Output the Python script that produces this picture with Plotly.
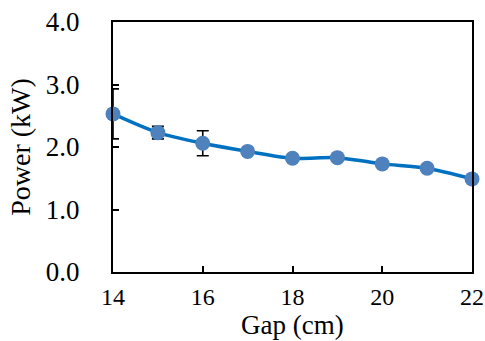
import plotly.graph_objects as go

gap_cm = [14, 15, 16, 17, 18, 19, 20, 21, 22]
power_kw = [2.53, 2.23, 2.06, 1.93, 1.82, 1.83, 1.73, 1.66, 1.49]
err_x = [14, 15, 16]
err_y = [2.53, 2.23, 2.06]
err_val = [0.40, 0.10, 0.20]
x_title = "Gap (cm)"
y_title = "Power (kW)"

FONT = "Liberation Serif"

fig = go.Figure()
fig.add_trace(go.Scatter(
    x=err_x, y=err_y, mode="markers",
    marker=dict(size=1, opacity=0),
    error_y=dict(type="data", array=err_val, visible=True,
                 color="black", thickness=1.6, width=6),
    showlegend=False, hoverinfo="skip", cliponaxis=False,
))
fig.add_trace(go.Scatter(
    x=gap_cm, y=power_kw, mode="lines+markers",
    line=dict(color="#0070C0", width=3.5, shape="spline", smoothing=0.8),
    marker=dict(color="#4F81BD", size=15),
    showlegend=False, cliponaxis=False,
))

fig.update_layout(
    width=485, height=341,
    margin=dict(l=113, r=13, t=22, b=69),
    paper_bgcolor="white", plot_bgcolor="white",
    font=dict(family=FONT, size=24, color="black"),
)
fig.add_annotation(
    text=x_title, xref="paper", yref="paper", x=0.5, y=-0.21,
    xanchor="center", yanchor="middle", showarrow=False,
    font=dict(family=FONT, size=27, color="black"),
)
fig.update_xaxes(
    range=[14, 22], tickvals=[14, 16, 18, 20, 22],
    ticks="inside", ticklen=6, tickwidth=1.5, tickcolor="black",
    showline=True, linecolor="black", linewidth=2, mirror=True,
    showgrid=False, zeroline=False, automargin=False,
    tickfont=dict(family=FONT, size=24),
    ticklabelstandoff=2,
)
fig.update_yaxes(
    range=[0, 4], tickvals=[0, 1, 2, 3, 4], tickformat=".1f",
    ticks="inside", ticklen=6, tickwidth=1.5, tickcolor="black",
    showline=True, linecolor="black", linewidth=2, mirror=True,
    showgrid=False, zeroline=False, automargin=False,
    title=dict(text=y_title, standoff=7, font=dict(family=FONT, size=28)),
    tickfont=dict(family=FONT, size=27),
    ticklabelstandoff=26,
)

fig.write_html("out.html", config={"displayModeBar": False},
               post_script="document.body.style.margin='0';")
